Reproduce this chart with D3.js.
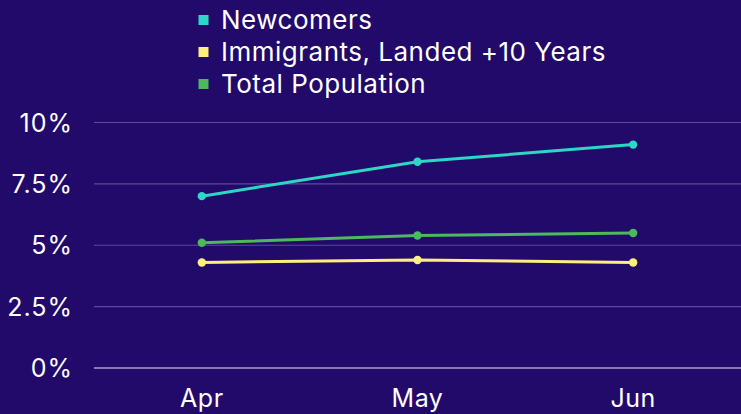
<!DOCTYPE html>
<html><head><meta charset="utf-8">
<script src="https://cdn.jsdelivr.net/npm/d3@7"></script>
<style>html,body{margin:0;padding:0;background:#220a6a;}svg{display:block;}</style>
</head><body><svg id="c" width="741" height="414"></svg>
<script>
const months = ["Apr","May","Jun"];
const seriesNames = ["Newcomers","Immigrants, Landed +10 Years","Total Population"];
const newcomers = [7.0, 8.4, 9.1];
const immigrants10 = [4.3, 4.4, 4.3];
const totalPopulation = [5.1, 5.4, 5.5];
const yTicks = [0, 2.5, 5, 7.5, 10];
const colors = ["#2ed6c6","#fcef7e","#4db85e"];

const series = [newcomers, immigrants10, totalPopulation];
const svg = d3.select("#c");
const W = 741, H = 414;
const plotLeft = 94, plotRight = 741, plotTop = 122.5, plotBottom = 368;
const font = "Inter, 'Noto Sans', sans-serif";

const x = d3.scalePoint().domain(months).range([plotLeft, plotRight]).padding(0.5);
const y = d3.scaleLinear().domain([0, 10]).range([plotBottom, plotTop]);

svg.append("rect").attr("width", W).attr("height", H).attr("fill", "#220a6a");

// gridlines
svg.append("g").selectAll("line").data(yTicks).join("line")
  .attr("x1", plotLeft).attr("x2", plotRight)
  .attr("y1", d => y(d)).attr("y2", d => y(d))
  .attr("stroke", d => d === 0 ? "#aaa0cc" : "#5d4a98")
  .attr("stroke-width", d => d === 0 ? 1.5 : 1.2);

// y labels
svg.append("g").selectAll("text").data(yTicks).join("text")
  .attr("x", 73).attr("y", d => y(d)).attr("dy", "0.36em")
  .attr("text-anchor", "end").attr("fill", "#ffffff")
  .attr("font-family", font).attr("font-size", 25).attr("font-weight", 400)
  .attr("letter-spacing", 1)
  .text(d => d + "%");

// x labels
svg.append("g").selectAll("text").data(months).join("text")
  .attr("x", d => x(d)).attr("y", 407)
  .attr("text-anchor", "middle").attr("fill", "#ffffff")
  .attr("font-family", font).attr("font-size", 25).attr("font-weight", 400)
  .attr("letter-spacing", 0.5)
  .text(d => d);

const line = d3.line().x((d, i) => x(months[i])).y(d => y(d));
series.forEach((s, k) => {
  svg.append("path").datum(s).attr("d", line)
    .attr("fill", "none").attr("stroke", colors[k]).attr("stroke-width", 3);
  svg.append("g").selectAll("circle").data(s).join("circle")
    .attr("cx", (d, i) => x(months[i])).attr("cy", d => y(d))
    .attr("r", 4.2).attr("fill", colors[k]);
});

// legend
const lg = svg.append("g");
seriesNames.forEach((n, k) => {
  const cy = 20 + k * 32;
  lg.append("rect").attr("x", 198.5).attr("y", cy - 5).attr("width", 10).attr("height", 10)
    .attr("fill", colors[k]);
  lg.append("text").attr("x", 221).attr("y", cy).attr("dy", "0.36em")
    .attr("fill", "#ffffff").attr("font-family", font).attr("font-size", 26)
    .attr("font-weight", 400).attr("letter-spacing", 0.5)
    .text(n);
});
</script></body></html>
